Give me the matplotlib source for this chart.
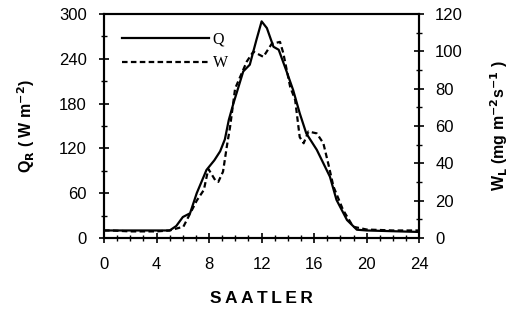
import matplotlib
matplotlib.use("Agg")
import matplotlib.pyplot as plt
from matplotlib.ticker import MultipleLocator

plt.rcParams["font.family"] = ["Liberation Sans", "DejaVu Sans"]

# Net radiation Q (left axis)
q_hours = [0.0, 0.5, 2.0, 4.0, 5.0, 5.5, 6.0, 6.55, 7.06, 7.8, 8.4, 8.84, 9.2, 9.5, 9.85,
           10.6, 11.1, 11.6, 12.0, 12.4, 12.9, 13.3, 13.9, 14.4, 14.9, 15.4, 16.2,
           17.2, 17.7, 18.5, 19.25, 20.0, 22.0, 24.0]
q_vals = [10, 10, 10, 10, 10, 16, 28, 33, 60, 91, 104, 116, 132, 158, 180,
          223, 232, 265, 290, 281, 256, 252, 223, 198, 167, 140, 118,
          82, 51, 24, 11, 10, 9, 8]

# Evaporation W (right axis)
w_hours = [0.0, 0.5, 2.0, 4.0, 5.0, 5.5, 6.04, 7.06, 7.6, 7.94, 8.46, 8.7, 9.06, 9.35, 9.6,
           9.98, 10.87, 11.37, 12.13, 12.77, 13.4, 13.65, 14.17, 14.55, 14.9, 15.2,
           15.56, 16.2, 16.7, 17.1, 17.47, 18.2, 18.97, 20.0, 22.0, 24.0]
w_vals = [4, 4, 3.5, 3.5, 4, 5, 6, 20, 25.7, 37, 31, 30, 35.5, 49, 59.6,
          80, 94.5, 99.8, 97, 104, 105, 99, 81, 74, 54, 50.7,
          57, 56, 50.7, 39, 27.5, 15, 6, 4.5, 4, 4]

fig = plt.figure(figsize=(5.1, 3.09), dpi=100)
ax = fig.add_axes([0.204, 0.23, 0.618, 0.725])
ax2 = ax.twinx()

l1, = ax.plot(q_hours, q_vals, color="black", lw=1.6)
l2, = ax2.plot(w_hours, w_vals, color="black", lw=1.6, ls=(0, (2.5, 1.5)))

ax.set_xlim(0, 24)
ax.set_ylim(0, 300)
ax2.set_ylim(0, 120)
ax.xaxis.set_major_locator(MultipleLocator(4))
ax.xaxis.set_minor_locator(MultipleLocator(1))
ax.yaxis.set_major_locator(MultipleLocator(60))
ax.yaxis.set_minor_locator(MultipleLocator(30))
ax2.yaxis.set_major_locator(MultipleLocator(20))
ax2.yaxis.set_minor_locator(MultipleLocator(10))

for a in (ax, ax2):
    for s in a.spines.values():
        s.set_linewidth(1.5)
    a.tick_params(which="major", direction="inout", length=7, width=1.2, labelsize=12)
    a.tick_params(which="minor", direction="inout", length=4, width=1)
ax.tick_params(axis="x", which="major", pad=10)
ax.tick_params(axis="y", which="major", pad=9)
ax2.tick_params(axis="y", which="major", pad=8)

ax.set_xlabel("S\u2009A\u2009A\u2009T\u2009L\u2009E\u2009R", fontsize=12.5,
              fontweight="bold", labelpad=14)
ax.set_ylabel(r"Q$_\mathbf{R}$ ( W m$^{\mathbf{-2}}$)", fontsize=11.5, fontweight="bold", labelpad=16)
ax2.set_ylabel(r"W$_\mathbf{L}$ (mg m$^{\mathbf{-2}}$s$^{\mathbf{-1}}$ )", fontsize=11.5,
               fontweight="bold", labelpad=18)

leg = ax.legend([l1, l2], ["Q", "W"], loc="upper left", frameon=False,
                handlelength=5.5, handletextpad=0.2, borderaxespad=0.7,
                prop={"family": "Liberation Serif", "size": 11.5})

fig.savefig("out.png", dpi=100)
